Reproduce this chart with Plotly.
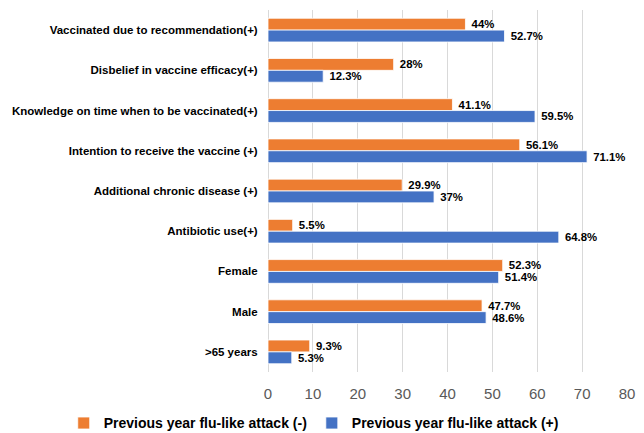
import plotly.graph_objects as go

# Survey factors, listed top to bottom
categories = [
    "Vaccinated due to recommendation(+)",
    "Disbelief in vaccine efficacy(+)",
    "Knowledge on time when to be vaccinated(+)",
    "Intention to receive the vaccine (+)",
    "Additional chronic disease (+)",
    "Antibiotic use(+)",
    "Female",
    "Male",
    ">65 years",
]
attack_neg = [44, 28, 41.1, 56.1, 29.9, 5.5, 52.3, 47.7, 9.3]
attack_pos = [52.7, 12.3, 59.5, 71.1, 37, 64.8, 51.4, 48.6, 5.3]
x_ticks = [0, 10, 20, 30, 40, 50, 60, 70, 80]

series_names = ["Previous year flu-like attack (-)", "Previous year flu-like attack (+)"]
series_colors = ["#ED7D31", "#4472C4"]

FONT = "Arial, 'Liberation Sans', sans-serif"

fig = go.Figure()
for name, vals, color in zip(series_names, [attack_neg, attack_pos], series_colors):
    fig.add_trace(go.Bar(
        y=categories,
        x=vals,
        name=name,
        orientation="h",
        marker=dict(color=color, line=dict(color="white", width=0.8)),
        texttemplate="\u00a0%{x}%",
        textposition="outside",
        cliponaxis=False,
        textfont=dict(family=FONT, size=11.5, color="black", weight="bold"),
    ))

fig.update_layout(
    width=644,
    height=433,
    margin=dict(l=268, r=17, t=10, b=61, autoexpand=False),
    paper_bgcolor="white",
    plot_bgcolor="white",
    barmode="group",
    bargap=0.41,
    bargroupgap=0,
    font=dict(family=FONT),
    legend=dict(
        orientation="h",
        x=-0.569,
        xanchor="left",
        y=-0.142,
        yanchor="middle",
        font=dict(family=FONT, size=14, color="black", weight="bold"),
        itemwidth=30,
        tracegroupgap=0,
    ),
    xaxis=dict(
        range=[0, 80],
        tickvals=x_ticks,
        showgrid=True,
        gridcolor="#D9D9D9",
        gridwidth=1,
        zeroline=True,
        zerolinecolor="#D9D9D9",
        zerolinewidth=1,
        showline=False,
        ticks="outside",
        ticklen=8,
        tickcolor="rgba(0,0,0,0)",
        tickfont=dict(family=FONT, size=15, color="#595959"),
    ),
    yaxis=dict(
        autorange="reversed",
        showgrid=False,
        showline=False,
        ticks="outside",
        ticklen=7,
        tickcolor="rgba(0,0,0,0)",
        tickfont=dict(family=FONT, size=11.5, color="black", weight="bold"),
    ),
)

fig.write_html("out.html")
